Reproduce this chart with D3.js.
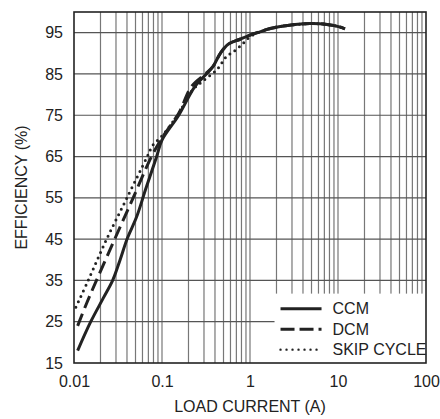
<!DOCTYPE html>
<html>
<head>
<meta charset="utf-8">
<script src="https://cdn.jsdelivr.net/npm/d3@7"></script>
<style>
  body { margin: 0; background: #fff; }
  svg { font-family: "Liberation Sans", Arial, sans-serif; }
</style>
</head>
<body>
<svg class="chart" width="440" height="419"></svg>
<script>
// load current (A) and efficiency (%)
let ccmX = [0.011, 0.0155, 0.0215, 0.0275, 0.0333, 0.0404, 0.0515, 0.065, 0.087, 0.1, 0.155, 0.237, 0.32, 0.38, 0.46, 0.565, 0.77, 1.0, 1.3, 1.7, 2.8, 4.8, 7.5, 10.4, 12];
let ccmY = [18, 25, 30.7, 35, 39.9, 45.2, 50.4, 57, 65, 69, 75, 82, 85, 86.8, 90, 92.2, 93.4, 94.4, 95.2, 96, 96.8, 97.2, 97, 96.4, 95.9];
let dcmX = [0.011, 0.014, 0.018, 0.029, 0.047, 0.076, 0.1, 0.155, 0.217, 0.31, 0.38, 0.46, 0.565, 0.77, 1.0, 1.7, 2.8, 4.8, 7.5, 10.4, 12];
let dcmY = [24, 29.6, 35, 45, 55, 65, 69.5, 75.5, 82, 85, 86.8, 90, 92.2, 93.4, 94.4, 96, 96.8, 97.2, 97, 96.4, 95.9];
let skipX = [0.0105, 0.0145, 0.0235, 0.04, 0.068, 0.079, 0.1, 0.155, 0.22, 0.3, 0.42, 0.54, 0.65, 0.8, 1.0, 1.7, 2.8, 4.8, 7.5, 10.4, 12];
let skipY = [28.5, 35, 45, 55, 65, 67.8, 70, 75.5, 81, 83.5, 86, 89.2, 90.4, 92, 94, 96, 96.8, 97.2, 97, 96.4, 95.9];

let xTicks = [0.01, 0.1, 1, 10, 100];
let yTicks = [15, 25, 35, 45, 55, 65, 75, 85, 95];
let seriesNames = ["CCM", "DCM", "SKIP CYCLE"];

let svg = d3.select("body").select(".chart");
let margin = {top: 12, right: 14, bottom: 56, left: 74};
let plotWidth = 440 - margin.left - margin.right;
let plotHeight = 419 - margin.top - margin.bottom;
let ink = "#222";

let x = d3.scaleLog().domain([0.01, 100]).range([0, plotWidth]);
let y = d3.scaleLinear().domain([15, 100]).range([plotHeight, 0]);

let plot = svg.append("g").attr("transform", translate(margin.left, margin.top));

// grid: minor log lines plus decade lines, horizontal every 10%
let vLines = [];
[0.01, 0.1, 1, 10].forEach(d => {
  for (let k = 1; k < 10; k++) vLines.push(d * k);
});
plot.append("g").selectAll("line")
  .data(vLines.filter(v => v > 0.01))
  .enter().append("line")
  .attr("x1", d => x(d)).attr("x2", d => x(d))
  .attr("y1", 0).attr("y2", plotHeight)
  .attr("stroke", "#777").attr("stroke-width", 1.2);
plot.append("g").selectAll("line")
  .data(yTicks.filter(v => v > 15))
  .enter().append("line")
  .attr("x1", 0).attr("x2", plotWidth)
  .attr("y1", d => y(d)).attr("y2", d => y(d))
  .attr("stroke", "#555").attr("stroke-width", 1.2);

// legend background covers the grid
let legX = x(1.9), legY = y(31.8);
plot.append("rect")
  .attr("x", legX).attr("y", legY)
  .attr("width", plotWidth - legX).attr("height", plotHeight - legY)
  .attr("fill", "#fff");

// frame
plot.append("rect")
  .attr("width", plotWidth).attr("height", plotHeight)
  .attr("fill", "none").attr("stroke", ink).attr("stroke-width", 1.6);

// axes (labels only)
let xAxis = d3.axisBottom(x).tickValues(xTicks).tickSize(0).tickPadding(13)
  .tickFormat(d => d < 1 ? String(d) : d3.format("d")(d));
let xGroup = plot.append("g").attr("transform", translate(0, plotHeight)).call(xAxis);
let yAxis = d3.axisLeft(y).tickValues(yTicks).tickSize(0).tickPadding(11);
let yGroup = plot.append("g").call(yAxis);
[xGroup, yGroup].forEach(g => {
  g.select(".domain").remove();
  g.selectAll("text").attr("fill", ink).style("font-size", "16px")
    .style("font-family", "'Liberation Sans', Arial, sans-serif");
});

svg.append("text")
  .attr("x", margin.left + plotWidth / 2).attr("y", 412)
  .attr("text-anchor", "middle").attr("fill", ink).style("font-size", "16px")
  .text("LOAD CURRENT (A)");
svg.append("text")
  .attr("transform", "translate(27," + (margin.top + plotHeight / 2) + ") rotate(-90)")
  .attr("text-anchor", "middle").attr("fill", ink).style("font-size", "16px")
  .text("EFFICIENCY (%)");

// curves
let line = d3.line().x(d => x(d[0])).y(d => y(d[1])).curve(d3.curveCatmullRom.alpha(0.5));
let series = [
  {name: seriesNames[0], pts: d3.zip(ccmX, ccmY), dash: null},
  {name: seriesNames[1], pts: d3.zip(dcmX, dcmY), dash: "13,6"},
  {name: seriesNames[2], pts: d3.zip(skipX, skipY), dash: "0,6"}
];
plot.append("g").selectAll("path")
  .data(series)
  .enter().append("path")
  .attr("d", d => line(d.pts))
  .attr("fill", "none").attr("stroke", ink).attr("stroke-width", 3)
  .attr("stroke-linecap", d => d.dash === "0,6" ? "round" : "butt")
  .attr("stroke-dasharray", d => d.dash);

// legend
let legDash = [null, "14,5", "0,6"];
let leg = plot.append("g").selectAll("g")
  .data(series)
  .enter().append("g")
  .attr("transform", (d, i) => translate(legX + 6, legY + 15 + i * 20.5));
leg.append("line")
  .attr("x1", 0).attr("x2", 41)
  .attr("stroke", ink).attr("stroke-width", (d, i) => i == 2 ? 2.4 : 3)
  .attr("stroke-linecap", (d, i) => i == 2 ? "round" : "butt")
  .attr("stroke-dasharray", (d, i) => legDash[i]);
leg.append("text")
  .attr("x", 52).attr("y", 5.5)
  .attr("fill", ink).style("font-size", "16px")
  .text(d => d.name);

function translate(x, y) {
  return 'translate(' + x + ',' + y + ')';
}
</script>
</body>
</html>
